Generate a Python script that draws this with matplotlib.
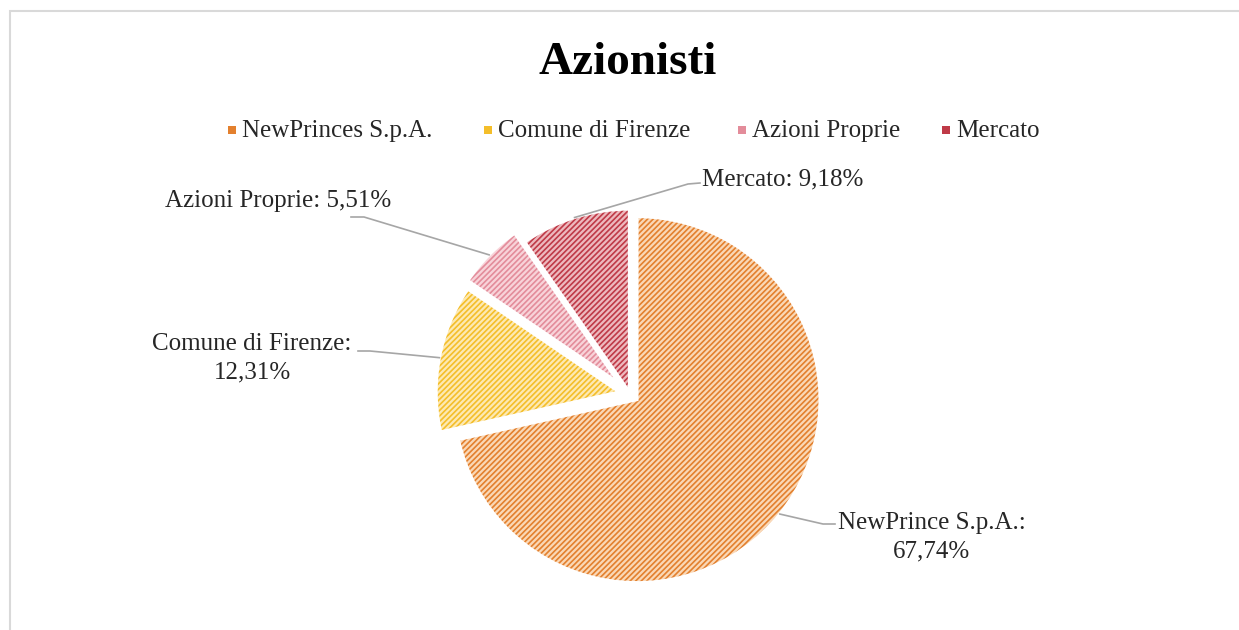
import numpy as np
import matplotlib.pyplot as plt
from matplotlib.patches import Rectangle, Wedge

# data
labels = ['NewPrinces S.p.A.', 'Comune di Firenze', 'Azioni Proprie', 'Mercato']
label_names = ['NewPrince S.p.A.', 'Comune di Firenze', 'Azioni Proprie', 'Mercato']
shares = [67.74, 12.31, 5.51, 9.18]
colors = ['#E3802E', '#F4BE2A', '#E38C9A', '#BF3A47']
tints = ['#FAD8B6', '#FDE9B3', '#F8D3D9', '#EDB9BE']

plt.rcParams['font.family'] = ['Liberation Serif', 'DejaVu Serif']
plt.rcParams['hatch.linewidth'] = 1.2

W, H = 1239, 630
fig = plt.figure(figsize=(W / 100, H / 100), dpi=100)
ax = fig.add_axes([0, 0, 1, 1])

def py(y):
    return H - y

cx, cy, r = 630, py(394), 183
explode = [9, 11, 15, 2]  # px
wedges, _ = ax.pie(shares, colors=tints, startangle=90, counterclock=False,
                   center=(cx, cy), radius=r, explode=explode, frame=True)
for w, c in zip(wedges, colors):
    w.set_edgecolor(c)
    w.set_linewidth(0)
    w.set_hatch('//////')
    # white slice border on top
    ax.add_patch(Wedge(w.center, w.r, w.theta1, w.theta2, fill=False,
                       edgecolor='white', lw=2.2))
ax.set_xlim(0, W)
ax.set_ylim(0, H)
ax.set_aspect('equal')
ax.axis('off')

# outer chart frame (only top/left visible)
ax.add_patch(Rectangle((10, -20), W + 20, py(11) + 20, fill=False,
                       edgecolor='#d9d9d9', lw=1.5))

ax.text(628, py(63), 'Azionisti', ha='center', va='center', fontsize=34,
        fontweight='bold', color='black')

# data labels with leader lines (elbow point, end point)
lab_pos = [(932, 537), (252, 358), (278, 201), (783, 179)]
elbow = [(823, 524), (370, 351), (364, 217), (688, 184)]
tip = [(835, 524), (358, 351), (351, 217), (700, 183)]
fmt = ['{}:\n{}%', '{}:\n{}%', '{}: {}%', '{}: {}%']
for i, w in enumerate(wedges):
    ang = np.deg2rad((w.theta1 + w.theta2) / 2)
    sx = w.center[0] + w.r * np.cos(ang)
    sy = w.center[1] + w.r * np.sin(ang)
    txt = fmt[i].format(label_names[i], f'{shares[i]:.2f}'.replace('.', ','))
    ax.plot([sx, elbow[i][0], tip[i][0]], [sy, py(elbow[i][1]), py(tip[i][1])],
            color='#a6a6a6', lw=1.2)
    ax.text(lab_pos[i][0], py(lab_pos[i][1]), txt, ha='center', va='center',
            fontsize=18, color='#262626', linespacing=1.35)

# legend
leg_x = [232, 488, 742, 946]
for x, lab, c in zip(leg_x, labels, colors):
    ax.add_patch(Rectangle((x - 4, py(130) - 4), 8, 8, facecolor=c, edgecolor='none'))
    ax.text(x + 10, py(131), lab, ha='left', va='center', fontsize=18, color='#262626')

fig.savefig('out.png', dpi=100)
